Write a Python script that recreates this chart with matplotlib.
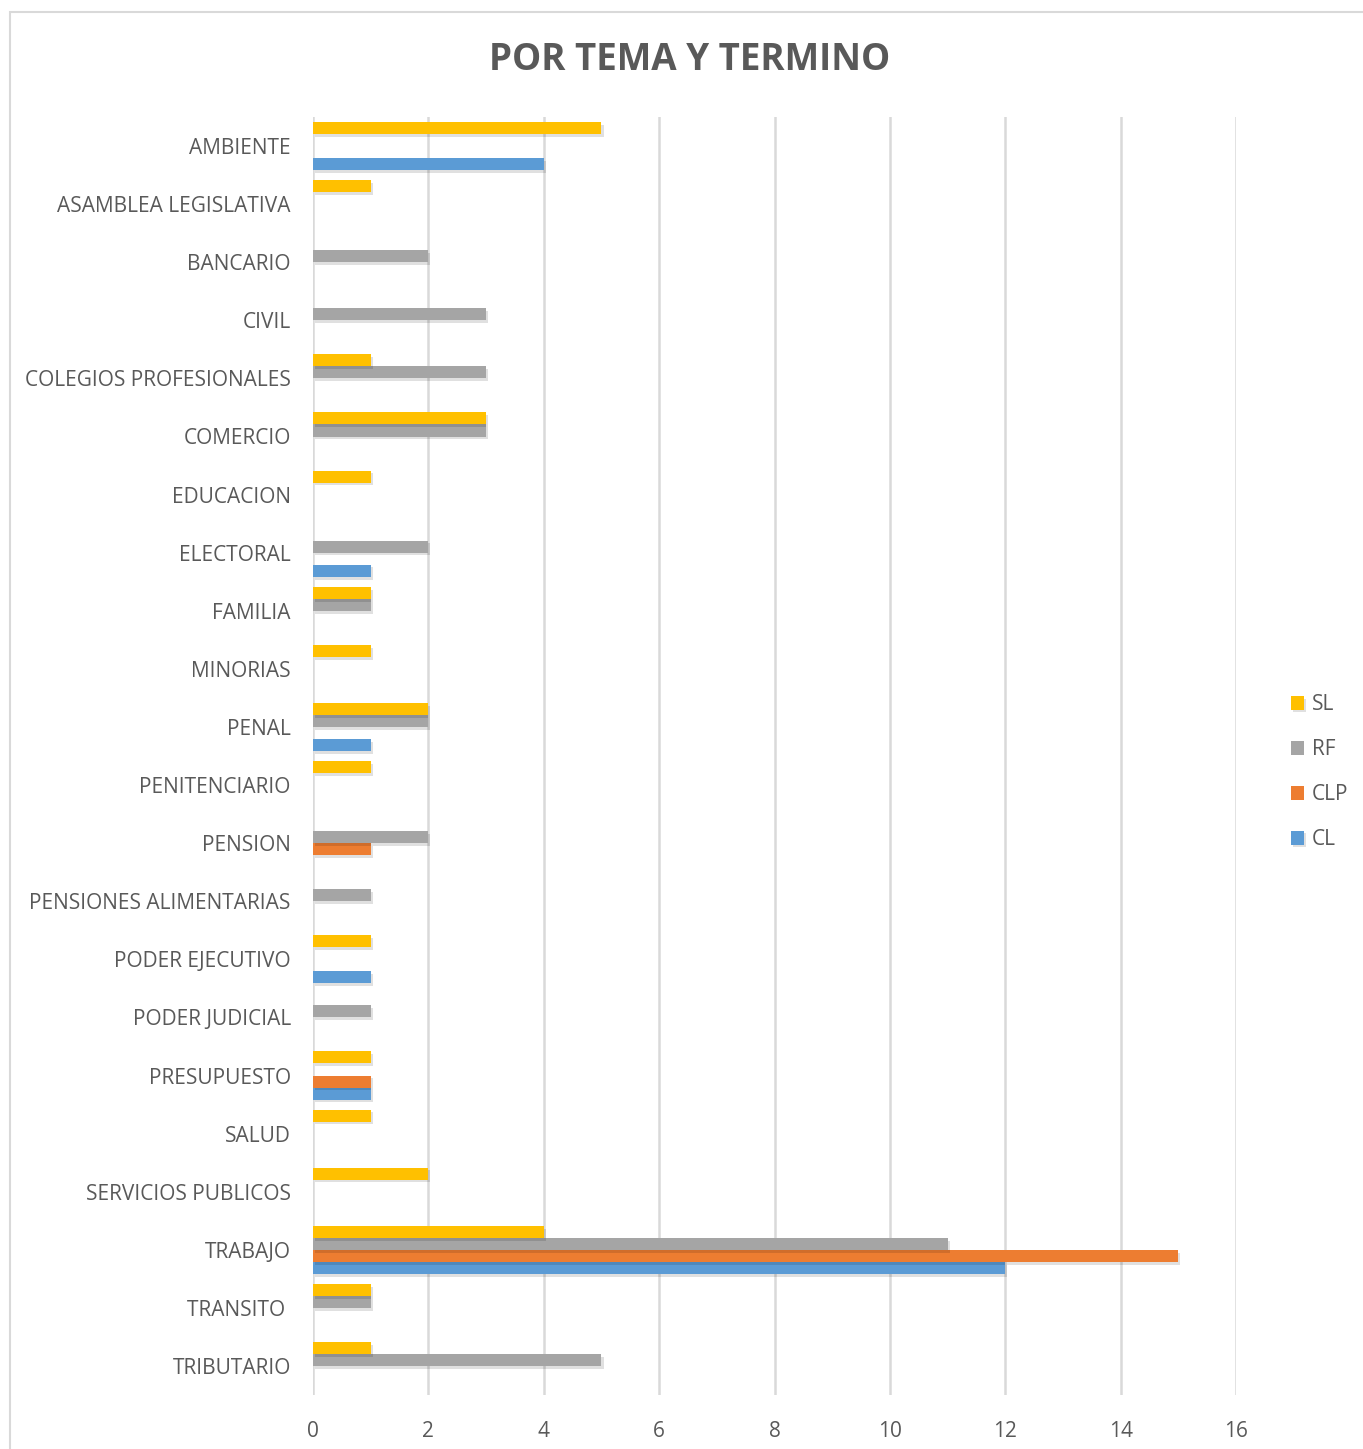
import matplotlib
matplotlib.use("Agg")
import matplotlib.pyplot as plt
import matplotlib.patheffects as pe
import numpy as np

plt.rcParams['font.family'] = ['Open Sans', 'DejaVu Sans']

temas = ['AMBIENTE', 'ASAMBLEA LEGISLATIVA', 'BANCARIO', 'CIVIL',
         'COLEGIOS PROFESIONALES', 'COMERCIO', 'EDUCACION', 'ELECTORAL',
         'FAMILIA', 'MINORIAS', 'PENAL', 'PENITENCIARIO', 'PENSION',
         'PENSIONES ALIMENTARIAS', 'PODER EJECUTIVO', 'PODER JUDICIAL',
         'PRESUPUESTO', 'SALUD', 'SERVICIOS PUBLICOS', 'TRABAJO',
         'TRANSITO ', 'TRIBUTARIO']

cl  = [4, 0, 0, 0, 0, 0, 0, 1, 0, 0, 1, 0, 0, 0, 1, 0, 1, 0, 0, 12, 0, 0]
clp = [0, 0, 0, 0, 0, 0, 0, 0, 0, 0, 0, 0, 1, 0, 0, 0, 1, 0, 0, 15, 0, 0]
rf  = [0, 0, 2, 3, 3, 3, 0, 2, 1, 0, 2, 0, 2, 1, 0, 1, 0, 0, 0, 11, 1, 5]
sl  = [5, 1, 0, 0, 1, 3, 1, 0, 1, 1, 2, 1, 0, 0, 1, 0, 1, 1, 2, 4, 1, 1]

series = [('CL', cl, '#5B9BD5'), ('CLP', clp, '#ED7D31'),
          ('RF', rf, '#A5A5A5'), ('SL', sl, '#FFC000')]

fig = plt.figure(figsize=(13.63, 14.49), dpi=100)
ax = fig.add_axes([313 / 1363, 1 - 1395 / 1449, (1236 - 313) / 1363, (1395 - 117) / 1449])

n = len(temas)
y = np.arange(n)[::-1]
h = 0.207
shadow = [pe.SimplePatchShadow(offset=(1.5, -2), shadow_rgbFace='#000000', alpha=0.12), pe.Normal()]
handles = []
for i, (name, vals, col) in enumerate(series):
    offs = (i - 1.5) * h
    bars = ax.barh(y + offs, vals, height=h, color=col, label=name, zorder=3)
    for b in bars:
        if b.get_width() > 0:
            b.set_path_effects(shadow)
    handles.append(bars)

ax.set_ylim(-0.5, n - 0.5)
ax.set_xlim(0, 16)
ax.set_xticks(range(0, 17, 2))
ax.set_yticks(y)
ax.set_yticklabels(temas)
ax.tick_params(axis='both', length=0, labelsize=15, colors='#595959')
ax.tick_params(axis='y', pad=16)
ax.tick_params(axis='x', pad=19)
ax.grid(axis='x', color='#D9D9D9', linewidth=1.8, zorder=0)
for s in ax.spines.values():
    s.set_visible(False)

fig.text(0.506, 1 - 60 / 1449, 'POR TEMA Y TERMINO', ha='center', va='center',
         fontsize=26.5, fontweight='bold', color='#595959')

leg = fig.legend(handles[::-1], [s[0] for s in series][::-1], loc='center left',
                 bbox_to_anchor=(1272 / 1363, 1 - 772 / 1449), frameon=False,
                 fontsize=15, labelcolor='#595959', handlelength=0.65, handleheight=0.65,
                 handletextpad=0.35, labelspacing=1.15)

border = plt.Rectangle((10 / 1363, -0.01), 1.02, 1 - 12 / 1449 + 0.01, transform=fig.transFigure,
                       fill=False, edgecolor='#D9D9D9', linewidth=1.5)
fig.patches.append(border)

fig.savefig('out.png', dpi=100)
